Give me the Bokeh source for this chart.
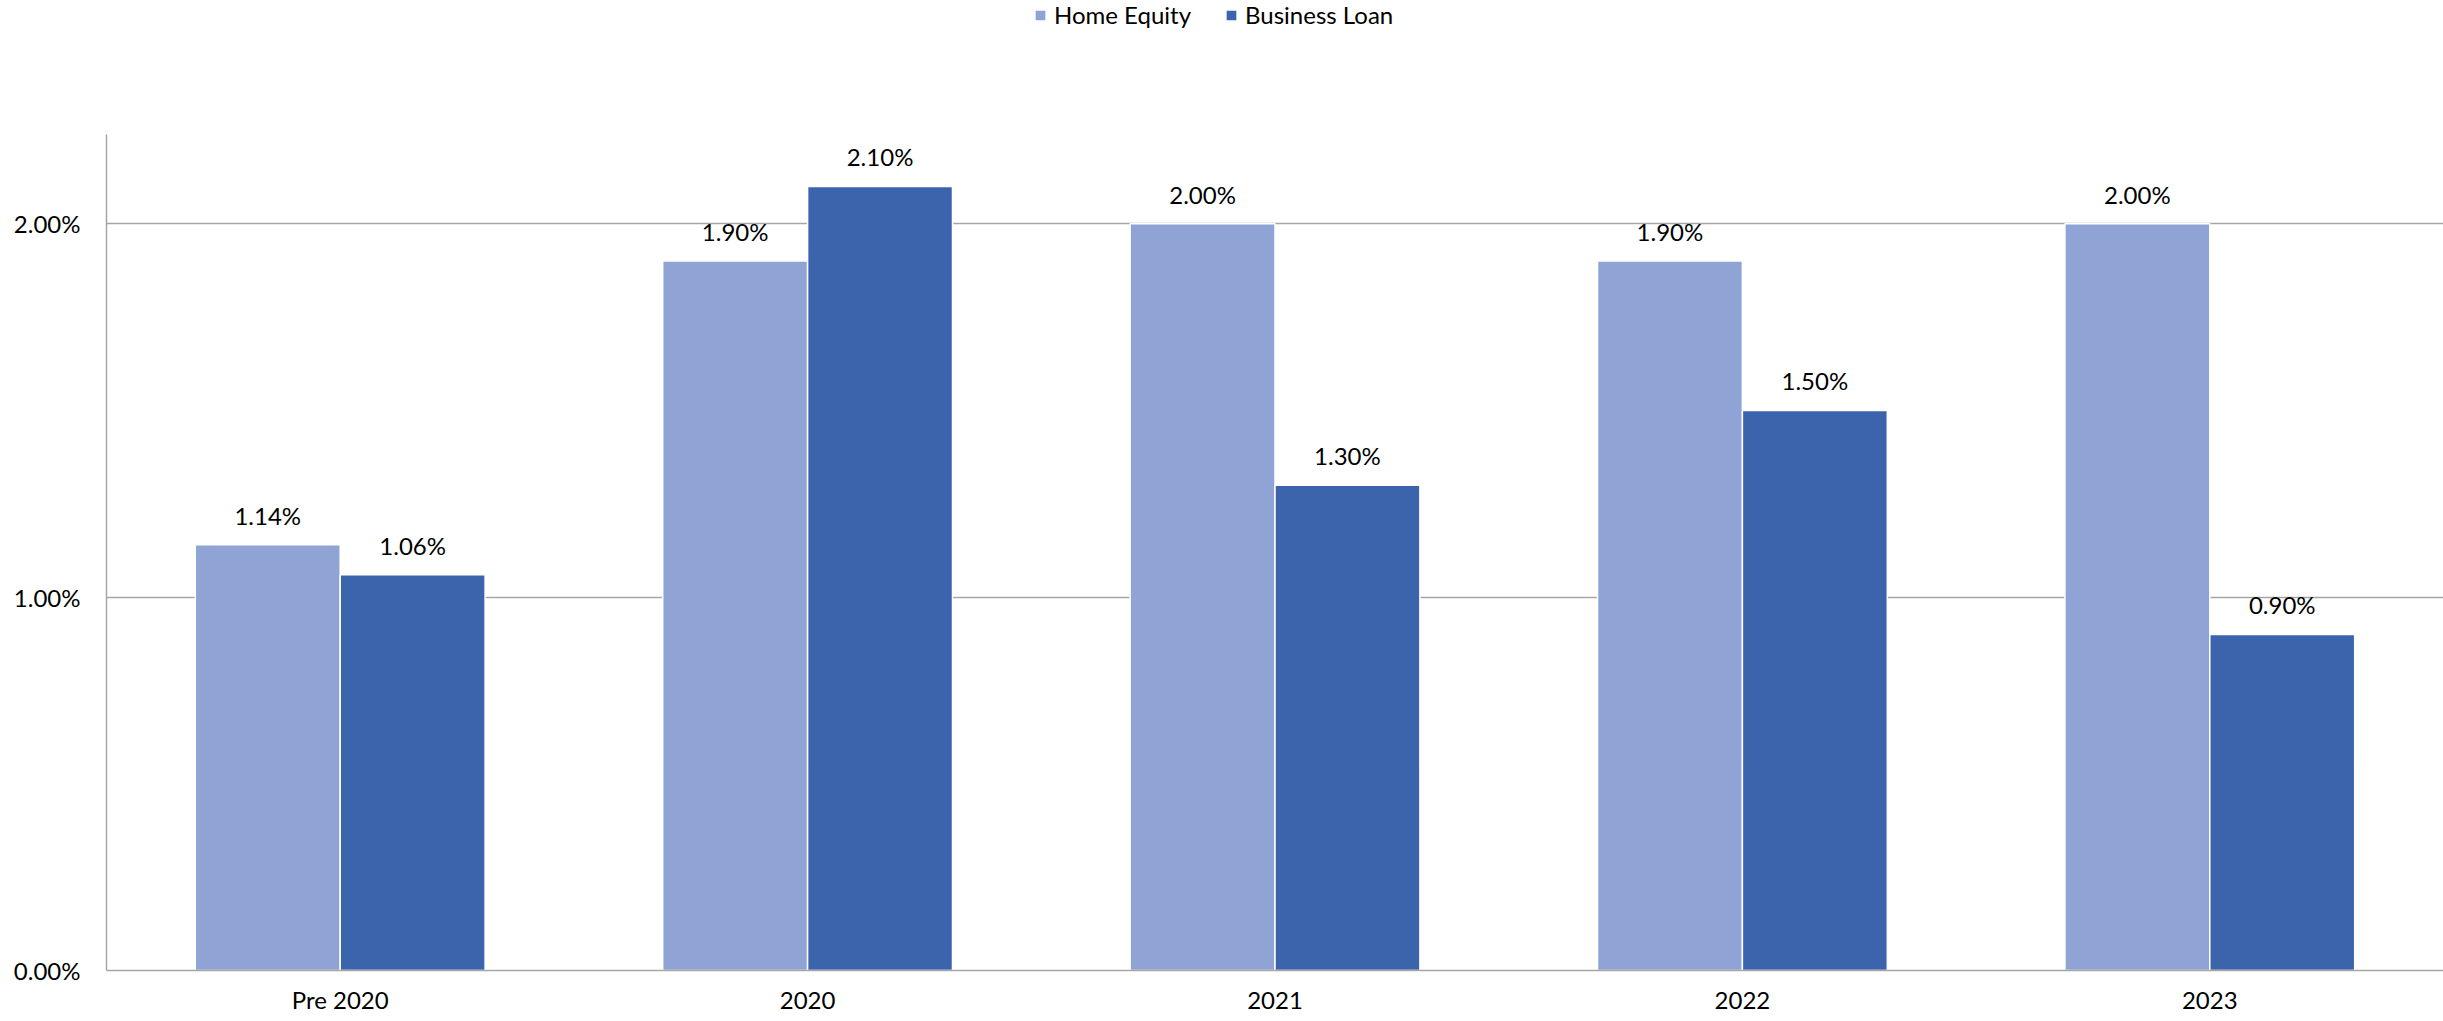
from bokeh.plotting import figure
from bokeh.models import ColumnDataSource, FactorRange, Range1d, LabelSet, Legend, LegendItem, PrintfTickFormatter, FixedTicker
from bokeh.transform import dodge
from bokeh.core.properties import value
from bokeh.embed import file_html
from bokeh.resources import INLINE

categories = ["Pre 2020", "2020", "2021", "2022", "2023"]
home_equity = [1.14, 1.90, 2.00, 1.90, 2.00]
business_loan = [1.06, 2.10, 1.30, 1.50, 0.90]
series_names = ["Home Equity", "Business Loan"]
y_ticks = [0.0, 1.0, 2.0]
y_axis_max = 2.24

colors = ["#8FA3D4", "#3C64AC"]
FONT = "Lato"

src = ColumnDataSource(dict(
    cat=categories,
    he=home_equity,
    bl=business_loan,
    he_lbl=[f"{v:.2f}%" for v in home_equity],
    bl_lbl=[f"{v:.2f}%" for v in business_loan],
))

# frame spans the full top of the canvas so the legend can sit inside it;
# the y-axis line is limited to 0..y_axis_max with bounds
p = figure(
    width=2443, height=1021,
    x_range=FactorRange(*categories, range_padding=0),
    y_range=Range1d(0, 2.598),
    output_backend="svg", toolbar_location=None,
    min_border_left=106, min_border_right=0, min_border_top=0, min_border_bottom=51,
)
p.title.visible = False
p.outline_line_color = None
p.background_fill_color = "white"
p.border_fill_color = "white"

w = 0.31
r1 = p.vbar(x=dodge("cat", -w / 2, range=p.x_range), top="he", width=w, source=src,
            fill_color=colors[0], line_color="white", line_width=1.5)
r2 = p.vbar(x=dodge("cat", w / 2, range=p.x_range), top="bl", width=w, source=src,
            fill_color=colors[1], line_color="white", line_width=1.5)

for col, lbl, off in (("he", "he_lbl", -w / 2), ("bl", "bl_lbl", w / 2)):
    ls = LabelSet(x=dodge("cat", off, range=p.x_range), y=col, text=lbl, source=src,
                  text_align="center", text_baseline="alphabetic", y_offset=20,
                  text_font=value(FONT), text_font_size="24px", text_color="#000000")
    p.add_layout(ls)

# axes
p.xaxis.axis_line_color = "#A6A6A6"
p.xaxis.axis_line_width = 1.5
p.xaxis.major_tick_line_color = None
p.xaxis.minor_tick_line_color = None
p.xaxis.major_tick_out = 0
p.xaxis.major_label_standoff = 14
p.xaxis.major_label_text_font = FONT
p.xaxis.major_label_text_font_size = "24px"
p.xaxis.major_label_text_color = "#000000"

p.yaxis.ticker = FixedTicker(ticks=y_ticks)
p.yaxis.formatter = PrintfTickFormatter(format="%.2f%%")
p.yaxis.bounds = (0, y_axis_max)
p.yaxis.axis_line_color = "#A6A6A6"
p.yaxis.axis_line_width = 1.5
p.yaxis.major_tick_line_color = None
p.yaxis.minor_tick_line_color = None
p.yaxis.major_tick_out = 0
p.yaxis.major_label_standoff = 26
p.yaxis.major_label_text_font = FONT
p.yaxis.major_label_text_font_size = "24px"
p.yaxis.major_label_text_color = "#000000"

p.xgrid.grid_line_color = None
p.ygrid.grid_line_color = "#A6A6A6"
p.ygrid.grid_line_width = 1.5

legend = Legend(
    items=[LegendItem(label=series_names[0], renderers=[r1]),
           LegendItem(label=series_names[1], renderers=[r2])],
    orientation="horizontal",
    location=(927, 941),
    glyph_width=14, glyph_height=14,
    label_standoff=7, spacing=33, padding=0, margin=0,
    label_text_font=FONT, label_text_font_size="24px", label_text_color="#000000",
    border_line_color=None, background_fill_alpha=0,
)
p.add_layout(legend, "center")

open("out.html", "w").write(file_html(p, INLINE))
